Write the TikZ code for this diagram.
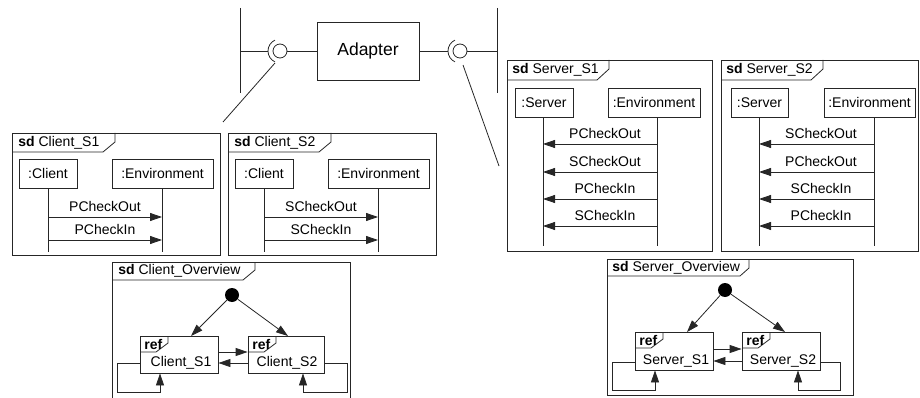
\documentclass[tikz,border=0pt]{standalone}
\usepackage{fontspec}
\setmainfont{Liberation Sans}
\usetikzlibrary{fit,arrows.meta}
\begin{document}
\begin{tikzpicture}[x=1pt,y=-1pt,
  line width=0.8pt, draw=black!85,
  every node/.style={font=\fontsize{14}{16}\selectfont, text=black},
  box/.style={draw=black!85, inner sep=0pt},
  obj/.style 2 args={draw=black!85, inner sep=0pt, minimum width=#1, minimum height=#2},
  lbl/.style={inner sep=0pt},
  tablbl/.style={inner sep=0pt, anchor=west},
  msg/.style={-{Triangle[length=12pt,width=8pt]}},
  dot/.style={circle, fill=black, inner sep=0pt, minimum size=14pt},
]
\clip (0,0) rectangle (920,398);

% ---------- top: adapter with ports ----------
\coordinate (vlA) at (240,8);  \coordinate (vlAb) at (240,93);
\coordinate (vlB) at (497,8);  \coordinate (vlBb) at (497,93);
\draw (vlA) -- (vlAb);
\draw (vlB) -- (vlBb);
\node[obj={102pt}{58pt}, font=\fontsize{17.5}{20}\selectfont] (adapter) at (368,51) {Adapter};
\node[draw=black!85, circle, minimum size=14pt, inner sep=0pt] (ballL) at (280,51) {};
\node[draw=black!85, circle, minimum size=14pt, inner sep=0pt] (ballR) at (460,51) {};
\coordinate (sockL) at (268,51);
\coordinate (sockR) at (448,51);
\draw (sockL) arc[start angle=180, end angle=115, radius=12];
\draw (sockL) arc[start angle=180, end angle=245, radius=12];
\draw (sockR) arc[start angle=180, end angle=115, radius=12];
\draw (sockR) arc[start angle=180, end angle=245, radius=12];
\draw (vlA |- sockL) -- (sockL);
\draw (ballL) -- (adapter);
\draw (adapter) -- (sockR);
\draw (ballR) -- (vlB |- ballR);
\coordinate (lnL) at (275,63); \coordinate (lnLe) at (223,122);
\coordinate (lnR) at (463,65); \coordinate (lnRe) at (499,166);
\draw (lnL) -- (lnLe);
\draw (lnR) -- (lnRe);

% ---------- Client_S1 ----------
\node[box, fit={(12,133)(220,255)}] (fc1) {};
\draw (12,152) -- (103,152) -- (115,142) -- (115,133);
\node[tablbl] (tc1) at (18,143) {\textbf{sd} Client\_S1};
\node[obj={58pt}{29pt}] (cc1) at (48,173.5) {:Client};
\node[obj={101pt}{29pt}] (ec1) at (162.5,173.5) {:Environment};
\coordinate (cc1e) at (48,252); \coordinate (ec1e) at (162,252);
\draw (cc1.south -| cc1e) -- (cc1e);
\draw (ec1.south -| ec1e) -- (ec1e);
\draw[msg] (cc1e |- 0,217) -- (ec1e |- 0,217);
\draw[msg] (cc1e |- 0,240) -- (ec1e |- 0,240);
\node[lbl] (m11) at (105,206) {PCheckOut};
\node[lbl] (m12) at (105,229) {PCheckIn};

% ---------- Client_S2 ----------
\node[box, fit={(228,133)(436,255)}] (fc2) {};
\draw (228,152) -- (319,152) -- (331,142) -- (331,133);
\node[tablbl] (tc2) at (234,143) {\textbf{sd} Client\_S2};
\node[obj={58pt}{29pt}] (cc2) at (264,173.5) {:Client};
\node[obj={101pt}{29pt}] (ec2) at (378.5,173.5) {:Environment};
\coordinate (cc2e) at (264,252); \coordinate (ec2e) at (378,252);
\draw (cc2.south -| cc2e) -- (cc2e);
\draw (ec2.south -| ec2e) -- (ec2e);
\draw[msg] (cc2e |- 0,217) -- (ec2e |- 0,217);
\draw[msg] (cc2e |- 0,240) -- (ec2e |- 0,240);
\node[lbl] (m21) at (321,206) {SCheckOut};
\node[lbl] (m22) at (321,229) {SCheckIn};

% ---------- Server_S1 ----------
\node[box, fit={(507,60)(712,251)}] (fs1) {};
\draw (507,80) -- (597,80) -- (609,69) -- (609,60);
\node[tablbl] (ts1) at (512,70) {\textbf{sd} Server\_S1};
\node[obj={58pt}{29pt}] (ss1) at (544,102.5) {:Server};
\node[obj={92pt}{29pt}] (es1) at (654,102.5) {:Environment};
\coordinate (ss1e) at (543,246); \coordinate (es1e) at (657,246);
\draw (ss1.south -| ss1e) -- (ss1e);
\draw (es1.south -| es1e) -- (es1e);
\draw[msg] (es1e |- 0,144) -- (ss1e |- 0,144);
\draw[msg] (es1e |- 0,172) -- (ss1e |- 0,172);
\draw[msg] (es1e |- 0,199) -- (ss1e |- 0,199);
\draw[msg] (es1e |- 0,226) -- (ss1e |- 0,226);
\node[lbl] (n11) at (605,133) {PCheckOut};
\node[lbl] (n12) at (605,161) {SCheckOut};
\node[lbl] (n13) at (605,188) {PCheckIn};
\node[lbl] (n14) at (605,215) {SCheckIn};

% ---------- Server_S2 ----------
\node[box, fit={(721,60)(918,251)}] (fs2) {};
\draw (721,80) -- (811,80) -- (823,69) -- (823,60);
\node[tablbl] (ts2) at (726,70) {\textbf{sd} Server\_S2};
\node[obj={57pt}{29pt}] (ss2) at (759.5,102.5) {:Server};
\node[obj={91pt}{29pt}] (es2) at (869.5,102.5) {:Environment};
\coordinate (ss2e) at (759,246); \coordinate (es2e) at (874,246);
\draw (ss2.south -| ss2e) -- (ss2e);
\draw (es2.south -| es2e) -- (es2e);
\draw[msg] (es2e |- 0,144) -- (ss2e |- 0,144);
\draw[msg] (es2e |- 0,172) -- (ss2e |- 0,172);
\draw[msg] (es2e |- 0,199) -- (ss2e |- 0,199);
\draw[msg] (es2e |- 0,226) -- (ss2e |- 0,226);
\node[lbl] (n21) at (821,133) {SCheckOut};
\node[lbl] (n22) at (821,161) {PCheckOut};
\node[lbl] (n23) at (821,188) {SCheckIn};
\node[lbl] (n24) at (821,215) {PCheckIn};

% ---------- Client_Overview ----------
\node[box, fit={(112,262)(350,410)}] (fco) {};
\draw (112,280) -- (243,280) -- (255,270) -- (255,262);
\node[tablbl] (tco) at (118,271) {\textbf{sd} Client\_Overview};
\node[dot] (ico) at (232,295) {};
\node[box, fit={(140,336)(218,373)}] (rc1) {};
\node[box, fit={(248,336)(324,373)}] (rc2) {};
\draw (140,352) -- (156,352) -- (168,343) -- (168,336);
\draw (248,352) -- (264,352) -- (276,343) -- (276,336);
\node[tablbl] (rc1t) at (144,344) {\textbf{ref}};
\node[tablbl] (rc2t) at (252,344) {\textbf{ref}};
\node[lbl] (rc1l) at (181,363) {Client\_S1};
\node[lbl] (rc2l) at (287,363) {Client\_S2};
\draw[msg] (ico) -- (191,336);
\draw[msg] (ico) -- (288,336);
\draw[msg] (rc1.east |- 0,352) -- (rc2.west |- 0,352);
\draw[msg] (rc2.west |- 0,363) -- (rc1.east |- 0,363);
\draw[msg] (rc1.west |- 0,363) -- (117,363) -- (117,392) -- (160,392) -- (rc1.south -| 160,0);
\draw[msg] (rc2.east |- 0,363) -- (347,363) -- (347,392) -- (303,392) -- (rc2.south -| 303,0);

% ---------- Server_Overview ----------
\node[box, fit={(607,259)(853,395)}] (fso) {};
\draw (607,276) -- (740,276) -- (749,268) -- (749,259);
\node[tablbl] (tso) at (612,268) {\textbf{sd} Server\_Overview};
\node[dot] (iso) at (725,290) {};
\node[box, fit={(635,332)(713,370)}] (rs1) {};
\node[box, fit={(742,332)(820,370)}] (rs2) {};
\draw (635,348) -- (651,348) -- (663,339) -- (663,332);
\draw (742,348) -- (758,348) -- (770,339) -- (770,332);
\node[tablbl] (rs1t) at (639,340) {\textbf{ref}};
\node[tablbl] (rs2t) at (746,340) {\textbf{ref}};
\node[lbl] (rs1l) at (676,361) {Server\_S1};
\node[lbl] (rs2l) at (783,361) {Server\_S2};
\draw[msg] (iso) -- (687,332);
\draw[msg] (iso) -- (785,332);
\draw[msg] (rs1.east |- 0,349) -- (rs2.west |- 0,349);
\draw[msg] (rs2.west |- 0,361) -- (rs1.east |- 0,361);
\draw[msg] (rs1.west |- 0,362) -- (612,362) -- (612,390) -- (655,390) -- (rs1.south -| 655,0);
\draw[msg] (rs2.east |- 0,362) -- (840,362) -- (840,390) -- (798,390) -- (rs2.south -| 798,0);
\end{tikzpicture}
\end{document}
